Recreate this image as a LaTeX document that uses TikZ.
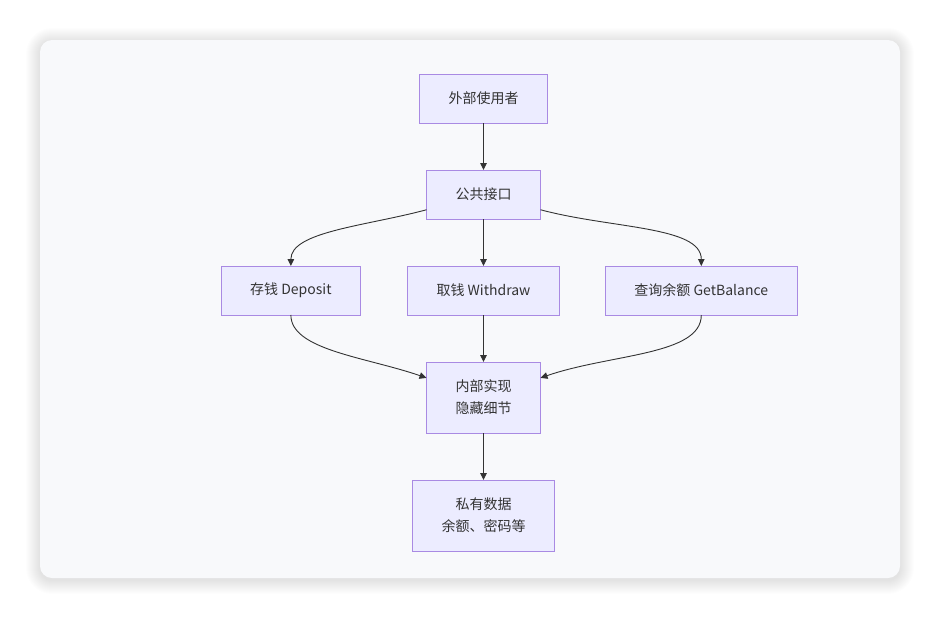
\documentclass[tikz,border=0pt]{standalone}
\usepackage{fontspec}
\newfontfamily\cjk{Noto Sans CJK SC}
\usepackage{tikz}
\usetikzlibrary{positioning,arrows.meta}
\definecolor{boxfill}{HTML}{ECECFF}
\definecolor{boxline}{HTML}{A98AE3}
\definecolor{edgecol}{HTML}{333333}
\definecolor{cardfill}{HTML}{F8F9FB}

\begin{document}
\begin{tikzpicture}[x=1pt, y=1pt,
  box/.style={draw=boxline, fill=boxfill, line width=1pt, minimum height=49pt, inner xsep=29pt,
    outer sep=0pt, font=\cjk\fontsize{14}{22}\selectfont, text=edgecol, align=center},
  link/.style={draw=edgecol, line width=0.9pt, -{Triangle[length=7pt, width=6.5pt]}},
  node distance=47pt]
% Page and card
\fill[white] (0,0) rectangle (940,-619);
\useasboundingbox (0,0) rectangle (940,-619);
\foreach \s in {1,...,14}
  \fill[black, opacity=0.008, rounded corners=12pt+\s pt] (40-\s,-40+\s-2) rectangle (900+\s,-578-\s-2);
\fill[cardfill, rounded corners=12pt] (40,-40) rectangle (900,-578);

% Boxes
\node[box] (user) at (483.5,-98.5) {外部使用者};
\node[box] (api) [below = of user] {公共接口};
\node[box] (withdraw) [below = of api] {取钱 Withdraw};
\node[box] (deposit) [left = of withdraw] {存钱 Deposit};
\node[box] (balance) [right = 46pt of withdraw] {查询余额 GetBalance};
\node[box, minimum height=71pt] (impl) [below = of withdraw] {内部实现\\隐藏细节};
\node[box, minimum height=71pt] (data) [below = of impl] {私有数据\\余额、密码等};

% Arrows
\draw[link] (user) -- (api);
\draw[link] (api) -- (withdraw);
\draw[link] (api) to [out=195, in=90, out looseness=1.1, in looseness=0.6] (deposit);
\draw[link] (api) to [out=-15, in=90, out looseness=1.1, in looseness=0.6] (balance);
\draw[link] (deposit) to [out=-90, in=161, out looseness=0.6, in looseness=1.1] (impl);
\draw[link] (balance) to [out=-90, in=19, out looseness=0.6, in looseness=1.1] (impl);
\draw[link] (withdraw) -- (impl);
\draw[link] (impl) -- (data);

\end{tikzpicture}
\end{document}
